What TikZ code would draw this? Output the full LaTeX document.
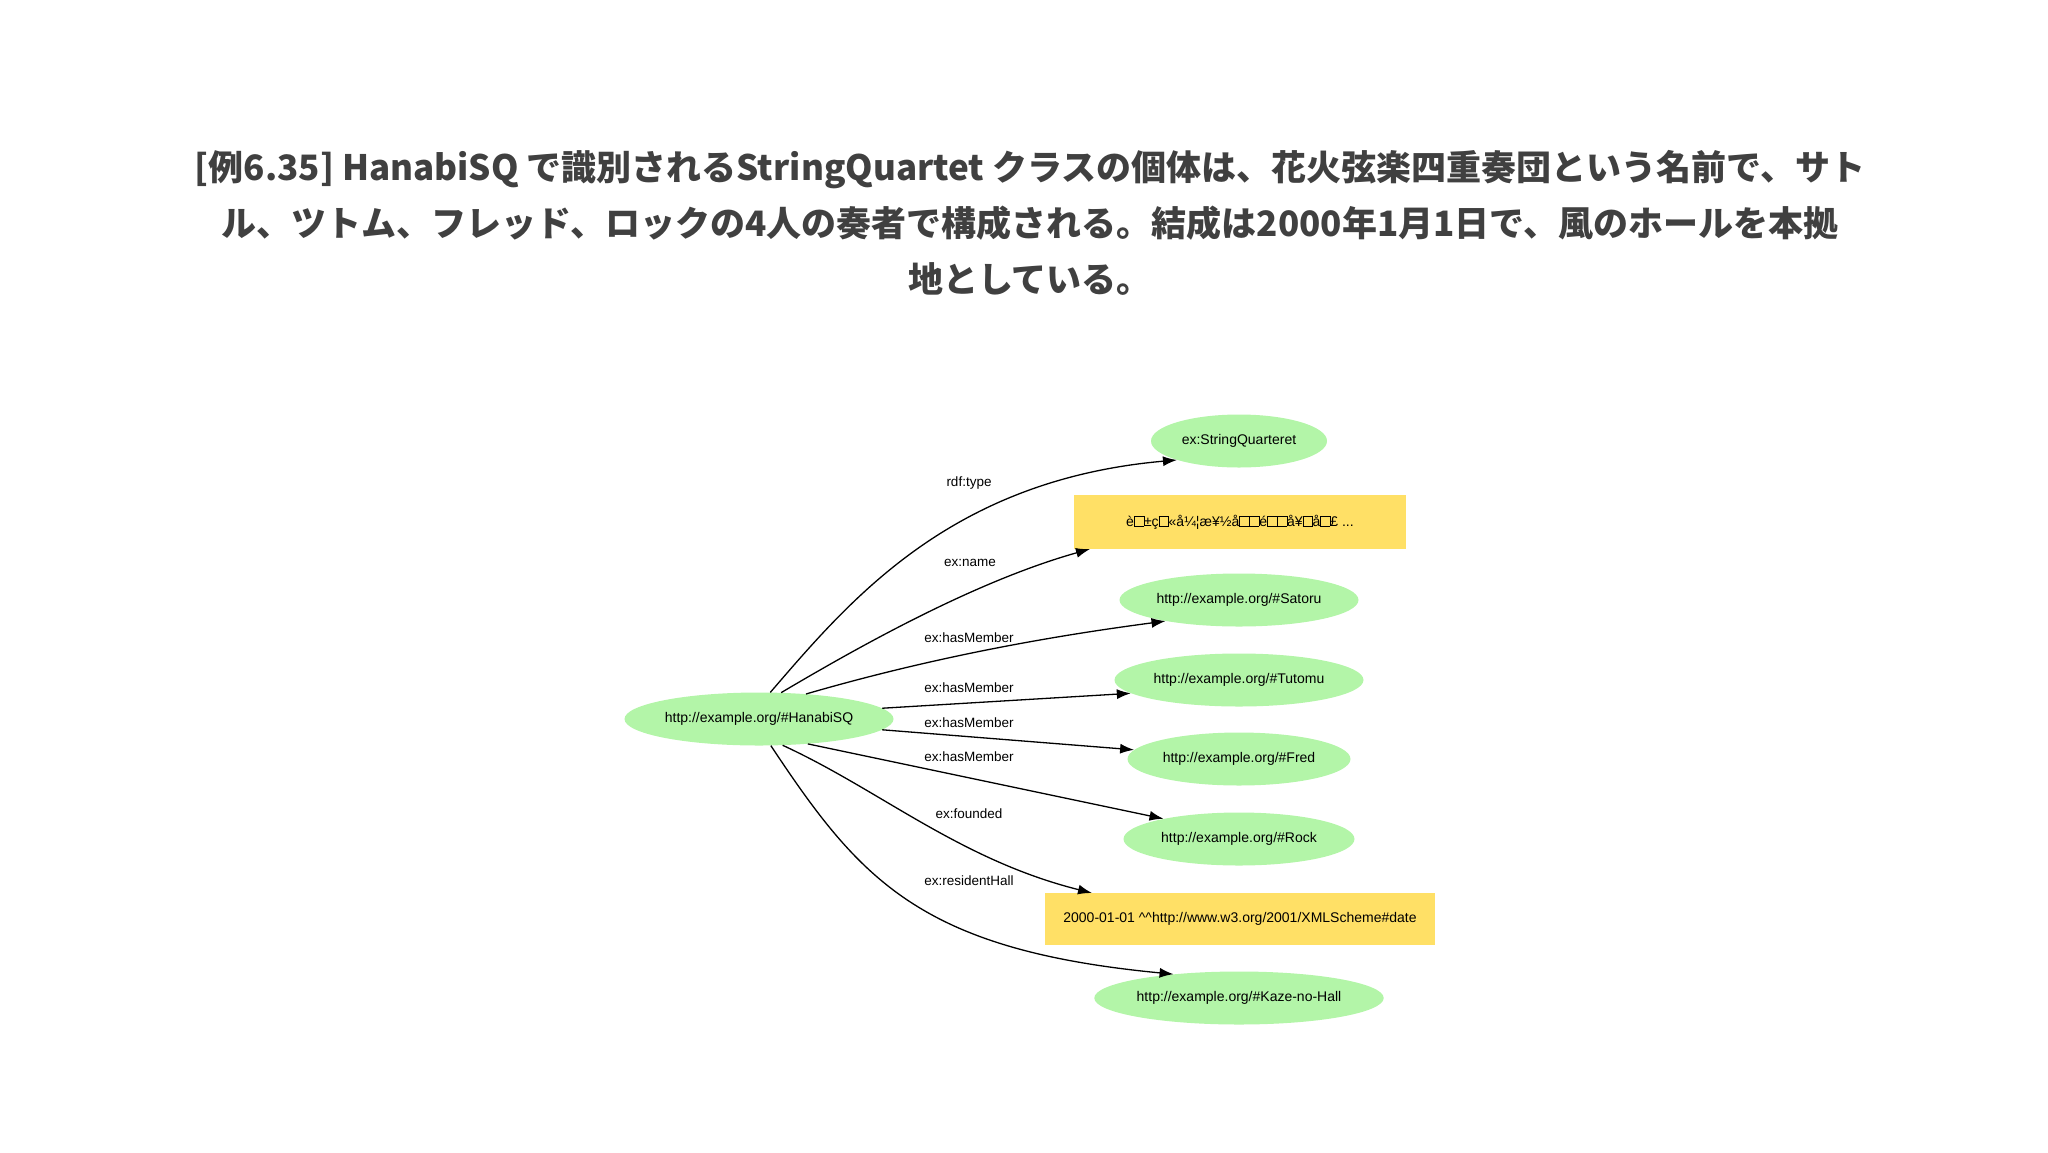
\documentclass[tikz,border=0pt]{standalone}
\usepackage{fontspec}
\setmainfont{Liberation Sans}
\newfontfamily\jp{Noto Sans CJK JP}
\newfontfamily\lsans{Liberation Sans}
\usetikzlibrary{shapes.geometric,arrows.meta}
\definecolor{gr}{HTML}{B3F5A8}
\definecolor{yl}{HTML}{FFE066}
\newcommand{\bx}{{\setlength{\fboxsep}{0pt}\setlength{\fboxrule}{0.5pt}\fbox{\rule{0pt}{10pt}\hspace{9pt}}}}
\tikzset{
 res/.style={ellipse,fill=gr,inner sep=0,font=\fontsize{14}{16}\selectfont},
 lit/.style={rectangle,fill=yl,inner sep=0,font=\fontsize{14}{16}\selectfont},
 lab/.style={font=\fontsize{13.5}{16}\selectfont},
 arr/.style={-{Latex[length=14pt,width=10pt]},line width=1.3pt},
}
\begin{document}
\begin{tikzpicture}[x=1pt,y=-1pt]
\useasboundingbox (0,0) rectangle (2048,1152);
\node[font=\jp\bfseries\fontsize{35}{56}\selectfont,color=black!75,align=center] (title) at (1030,223)
{[例6.35] HanabiSQ で識別されるStringQuartet クラスの個体は、花火弦楽四重奏団という名前で、サト\\
ル、ツトム、フレッド、ロックの4人の奏者で構成される。結成は2000年1月1日で、風のホールを本拠\\
地としている。};
\node[res,minimum width=269,minimum height=53] (h) at (759,719) {http://example.org/\#HanabiSQ};
\node[res,minimum width=176,minimum height=53] (sq) at (1239,441) {ex:StringQuarteret};
\node[lit,minimum width=332,minimum height=54] (nm) at (1240,522) {\lsans è\bx±ç\bx«å¼¦æ¥½å\bx\bx é\bx\bx å¥\bx å\bx£ ...};
\node[res,minimum width=239,minimum height=53] (sa) at (1239,600) {http://example.org/\#Satoru};
\node[res,minimum width=249,minimum height=53] (tu) at (1239,680) {http://example.org/\#Tutomu};
\node[res,minimum width=223,minimum height=53] (fr) at (1239,759) {http://example.org/\#Fred};
\node[res,minimum width=231,minimum height=53] (ro) at (1239,839) {http://example.org/\#Rock};
\node[lit,minimum width=390,minimum height=52] (dt) at (1240,919) {2000-01-01 \^{}\^{}http://www.w3.org/2001/XMLScheme\#date};
\node[res,minimum width=289,minimum height=53] (kz) at (1239,998) {http://example.org/\#Kaze-no-Hall};
\coordinate (nmE) at (1090,549);
\coordinate (dtE) at (1092,893);
\draw[arr] (h.67) .. controls (850,600) and (950,480) .. (sq.197);
\draw[arr] (h.50) .. controls (870,640) and (980,580) .. (nmE);
\draw[arr] (h.28) .. controls (940,655) and (1060,635) .. (sa.196);
\draw[arr] (h.5) -- (tu.187);
\draw[arr] (h.-5) -- (fr.175);
\draw[arr] (h.-27) -- (ro.165);
\draw[arr] (h.-48) .. controls (880,790) and (960,860) .. (dtE);
\draw[arr] (h.-66) .. controls (860,880) and (920,950) .. (kz.160);
\node[lab] (l1) at (969,483) {rdf:type};
\node[lab] (l2) at (970,563) {ex:name};
\node[lab] (l3) at (969,638) {ex:hasMember};
\node[lab] (l4) at (969,688) {ex:hasMember};
\node[lab] (l5) at (969,723) {ex:hasMember};
\node[lab] (l6) at (969,757) {ex:hasMember};
\node[lab] (l7) at (969,814) {ex:founded};
\node[lab] (l8) at (969,881) {ex:residentHall};
\end{tikzpicture}
\end{document}
